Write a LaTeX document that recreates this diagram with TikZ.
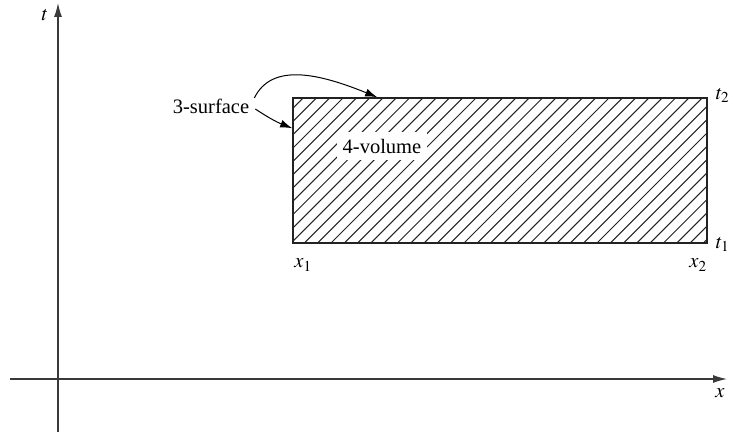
\documentclass[tikz,border=0pt]{standalone}
\usepackage{mathptmx}
\usepackage{fontspec}
\setmainfont{Liberation Serif}
\usetikzlibrary{positioning,arrows.meta,calc,backgrounds}
\definecolor{axisclr}{HTML}{3A3A3A}
\definecolor{lineclr}{HTML}{222222}
\tikzset{
  axis/.style    = {-{Latex[length=14pt,width=8pt]}, line width=1.2pt, draw=axisclr},
  region/.style  = {draw=lineclr, line width=1.6pt, minimum width=414pt, minimum height=145pt, inner sep=0pt},
  hatch/.style   = {line width=1.05pt, draw=lineclr},
  lbl/.style     = {font=\rmfamily\fontsize{20.5}{24}\selectfont, inner sep=1pt},
  pointer/.style = {-{Latex[length=12pt,width=8pt]}, line width=1pt},
}

\begin{document}
\begin{tikzpicture}[x=1pt, y=1pt]

\useasboundingbox (0,0) rectangle (729,432);

%% axes
\coordinate (tlo) at (58,0);
\coordinate (thi) at (58,429);
\coordinate (xlo) at (10,53);
\coordinate (xhi) at (727,53);
\draw[axis] (tlo) -- (thi);
\draw[axis] (xlo) -- (xhi);
\node[lbl] (tlbl) at (45,417) {$t$};
\node[lbl] (xlbl) at (720,39) {$x$};

%% the region
\node[region] (vol) at (500,261.5) {};
\begin{scope}[on background layer]
  \clip (vol.south west) rectangle (vol.north east);
  \foreach \k in {-11,...,41}
    \draw[hatch] (\k*13.3+158.1,189) -- ++(145,145);
\end{scope}

\node[lbl, fill=white, inner xsep=5.5pt, inner ysep=6.5pt] (vollbl) at (382,286) {4-volume};

%% corner labels
\node[lbl, anchor=west]       (t2) at ($(vol.north east)+(7,1.5)$) {$t_2$};
\node[lbl, anchor=west]       (t1) at ($(vol.south east)+(7,-0.5)$) {$t_1$};
\node[lbl, anchor=north west] (x1) at ($(vol.south west)+(1,-14)$) {$x_1$};
\node[lbl, anchor=north east] (x2) at ($(vol.south east)+(0,-14)$) {$x_2$};

%% boundary pointers
\node[lbl] (surf) at (211,326) {3-surface};
\coordinate (topedge) at ($(vol.north west)+(85,0)$);
\coordinate (sideedge) at ($(vol.north west)+(0,-31)$);
\draw[pointer] ($(surf.east)+(4,8)$) .. controls (272,370) and (320,358) .. (topedge);
\draw[pointer] ($(surf.east)+(5,-3)$) to[bend right=6] (sideedge);

\end{tikzpicture}
\end{document}
